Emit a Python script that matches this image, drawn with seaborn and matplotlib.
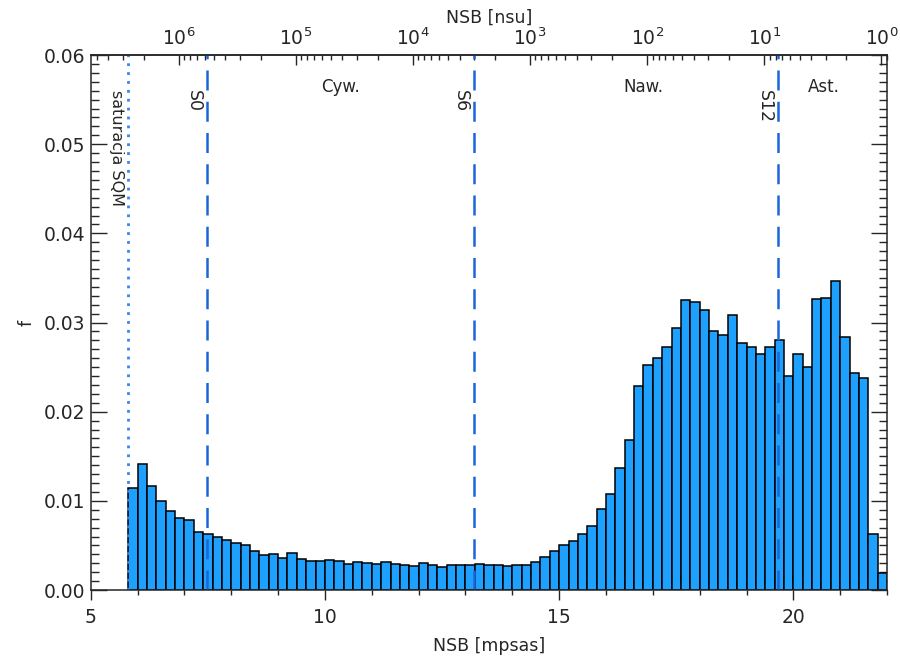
import numpy as np
import pandas as pd
import matplotlib
matplotlib.use("Agg")
import matplotlib.pyplot as plt
import seaborn as sns
from matplotlib.ticker import (MultipleLocator, FixedLocator,
                               LogFormatterSciNotation, NullFormatter)

# histogram of night sky brightness, bins of 0.2 mpsas starting at 5.8
nsb_start = 5.8
bin_width = 0.2
freq = [
    0.0114, 0.0141, 0.0117, 0.0100, 0.0089, 0.0081, 0.0079, 0.0065, 0.0063, 0.0060,
    0.0056, 0.0053, 0.0050, 0.0044, 0.0039, 0.0040, 0.0036, 0.0041, 0.0035, 0.0033,
    0.0033, 0.0034, 0.0033, 0.0029, 0.0031, 0.0030, 0.00295, 0.0031, 0.0029, 0.0028,
    0.0027, 0.0030, 0.0028, 0.0026, 0.0028, 0.0028, 0.0028, 0.0029, 0.0028, 0.0028,
    0.0027, 0.0028, 0.0028, 0.0031, 0.0037, 0.0044, 0.0050, 0.0055, 0.0063, 0.0072,
    0.0091, 0.0108, 0.0137, 0.0168, 0.0229, 0.0252, 0.0260, 0.0272, 0.0294, 0.0325,
    0.0323, 0.0314, 0.0290, 0.0286, 0.0308, 0.0277, 0.0272, 0.0265, 0.0272, 0.0280,
    0.0240, 0.0265, 0.0250, 0.0326, 0.0327, 0.0347, 0.0284, 0.0243, 0.0238, 0.0063,
    0.0019,
]

# vertical reference lines [mpsas]
sqm_saturation = 5.8
limit_names = ["S0", "S6", "S12"]
limit_values = [7.48, 13.18, 19.67]
zone_names = ["Cyw.", "Naw.", "Ast."]
zone_centres = [10.33, 16.79, 20.64]

# zero point for mpsas -> nsu conversion, decades shown on the top axis
m0 = 21.88
nsu_decades = [0, 1, 2, 3, 4, 5, 6]

x_range = (5, 22)

edges = [float(e) for e in nsb_start + bin_width * np.arange(len(freq) + 1)]
df = pd.DataFrame({"nsb": np.array(edges[:-1]) + bin_width / 2, "f": freq})

sns.set_theme(style="ticks")
plt.rcParams['font.family'] = ['DejaVu Sans']
plt.rcParams['font.size'] = 13
plt.rcParams['axes.labelsize'] = 12.5
plt.rcParams['xtick.labelsize'] = 13.5
plt.rcParams['ytick.labelsize'] = 13.5
plt.rcParams['axes.linewidth'] = 1.1

bar_color = "#1ea0ff"
line_color = "#1a66d9"

fig = plt.figure(figsize=(9, 6.59), dpi=100)
ax = fig.add_axes([0.1008, 0.1047, 0.8848, 0.8118])

sns.histplot(data=df, x="nsb", weights="f", bins=edges, color=bar_color, alpha=1,
             edgecolor="black", linewidth=1.1, ax=ax)

ax.axvline(sqm_saturation, color="#3388ee", ls=(0, (1, 2.2)), lw=2)
for name, val in zip(limit_names, limit_values):
    ax.axvline(val, color=line_color, ls=(0, (8, 4.5)), lw=1.8)
    ax.annotate(name, xy=(val, 0.0561), xytext=(-3, 0), textcoords="offset points",
                rotation=270, ha="right", va="top", fontsize=12.5)
ax.annotate("saturacja SQM", xy=(sqm_saturation, 0.0561), xytext=(-3, 0),
            textcoords="offset points", rotation=270, ha="right", va="top",
            fontsize=11.5)
for name, val in zip(zone_names, zone_centres):
    ax.text(val, 0.05645, name, ha="center", va="center", fontsize=12)

ax.set_xlim(*x_range)
ax.set_ylim(0, 0.06)
ax.xaxis.set_major_locator(MultipleLocator(5))
ax.xaxis.set_minor_locator(MultipleLocator(1))
ax.yaxis.set_major_locator(MultipleLocator(0.01))
ax.yaxis.set_minor_locator(MultipleLocator(0.001))
ax.yaxis.set_major_formatter(lambda v, p: f"{v:.2f}")
ax.tick_params(axis="x", which="both", direction="out", top=False, pad=6)
ax.tick_params(axis="x", which="major", length=7, width=1)
ax.tick_params(axis="x", which="minor", length=3.6, width=1)
ax.tick_params(axis="y", which="both", direction="in", left=True, right=True, pad=4)
ax.tick_params(axis="y", which="major", length=11.5, width=1)
ax.tick_params(axis="y", which="minor", length=5.8, width=1)
ax.set_xlabel("NSB [mpsas]", labelpad=7)
ax.set_ylabel("f", labelpad=6)


def to_nsu(m):
    return 10 ** (-0.4 * (np.asarray(m, dtype=float) - m0))


def to_mpsas(n):
    n = np.clip(np.asarray(n, dtype=float), 1e-12, None)
    return m0 - 2.5 * np.log10(n)


# top axis: log ticks in nsu, kept inside the visible range
nsu_lo, nsu_hi = sorted(float(v) for v in to_nsu(x_range))
major_nsu = [10.0 ** d for d in nsu_decades]
minor_nsu = [k * 10.0 ** d for d in range(-1, 7) for k in range(2, 10)]
minor_nsu = [v for v in minor_nsu if nsu_lo <= v <= nsu_hi]

secax = ax.secondary_xaxis("top", functions=(to_nsu, to_mpsas))
secax.xaxis.set_major_locator(FixedLocator(major_nsu))
secax.xaxis.set_minor_locator(FixedLocator(minor_nsu))
secax.xaxis.set_major_formatter(LogFormatterSciNotation())
secax.xaxis.set_minor_formatter(NullFormatter())
secax.tick_params(which="both", direction="in", pad=4)
secax.tick_params(which="major", length=7, width=1)
secax.tick_params(which="minor", length=3.6, width=1)
secax.set_xlabel("NSB [nsu]", labelpad=4)

fig.savefig("out.png", dpi=100)
